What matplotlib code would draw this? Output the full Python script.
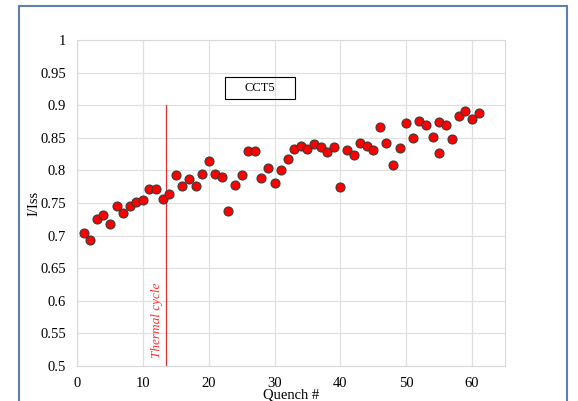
import numpy as np
import matplotlib.pyplot as plt
from matplotlib.patches import Rectangle

# quench number and normalised current I/Iss
quench = [1, 2, 3, 4, 5, 6, 7, 8, 9, 10,
          11, 12, 13, 14, 15, 16, 17, 18, 19, 20,
          21, 22, 23, 24, 25, 26, 27, 28, 29, 30,
          31, 32, 33, 34, 35, 36, 37, 38, 39, 40,
          41, 42, 43, 44, 45, 46, 47, 48, 49, 50,
          51, 52, 53, 54, 55, 55, 56, 57, 58, 59, 60, 61]
i_iss = [0.704, 0.694, 0.725, 0.732, 0.718, 0.745, 0.734, 0.745, 0.751, 0.754,
         0.771, 0.772, 0.756, 0.764, 0.793, 0.776, 0.787, 0.776, 0.795, 0.814,
         0.794, 0.790, 0.737, 0.778, 0.793, 0.829, 0.829, 0.789, 0.804, 0.780,
         0.800, 0.818, 0.833, 0.837, 0.833, 0.840, 0.836, 0.828, 0.836, 0.774,
         0.831, 0.823, 0.842, 0.838, 0.831, 0.867, 0.842, 0.809, 0.834, 0.873,
         0.849, 0.876, 0.870, 0.851, 0.875, 0.827, 0.869, 0.848, 0.884, 0.891, 0.879, 0.888]

thermal_x = 13.5
thermal_top = 0.9

plt.rcParams['font.family'] = ['Liberation Serif', 'DejaVu Serif']

fig = plt.figure(figsize=(5.78, 4.01), dpi=100)
ax = fig.add_axes([77/578, 35/401, 428/578, 326/401])

# outer frame
fig.patches.append(Rectangle((19/578, -0.05), 548/578, 1.05 - 6/401,
                             transform=fig.transFigure, fill=False,
                             edgecolor='#5f7fb0', linewidth=1.5))

ax.scatter(quench, i_iss, s=42, color='#ff0000', edgecolor='#3a3a3a',
           linewidth=0.8, zorder=3)

ax.plot([thermal_x, thermal_x], [0.5, thermal_top], color='#e03030',
        linewidth=0.9, zorder=2)
ax.text(thermal_x - 1.3, 0.512, 'Thermal cycle', rotation=90, color='#ff3030',
        style='italic', fontsize=9.5, ha='center', va='bottom')

# label box
ax.add_patch(Rectangle((0.346, 0.819), 0.164, 0.0675, transform=ax.transAxes,
                       fill=False, edgecolor='black', linewidth=0.8))
ax.text(0.428, 0.853, 'CCT5', transform=ax.transAxes, ha='center',
        va='center', fontsize=9)

ax.set_xlim(0, 65)
ax.set_ylim(0.5, 1)
ax.set_xticks(np.arange(0, 61, 10))
ax.set_yticks(np.arange(0.5, 1.001, 0.05))
ax.set_yticklabels(['0.5', '0.55', '0.6', '0.65', '0.7', '0.75', '0.8',
                    '0.85', '0.9', '0.95', '1'])
ax.grid(True, color='#e0e0e0', linewidth=0.9)
ax.set_axisbelow(True)
for s in ax.spines.values():
    s.set_color('#d9d9d9')
ax.tick_params(length=0, labelsize=10.5, pad=8)
ax.set_xlabel('Quench #', fontsize=10.5, labelpad=-1)
ax.set_ylabel('I/Iss', fontsize=10.5, labelpad=0)

fig.savefig('out.png', dpi=100)
